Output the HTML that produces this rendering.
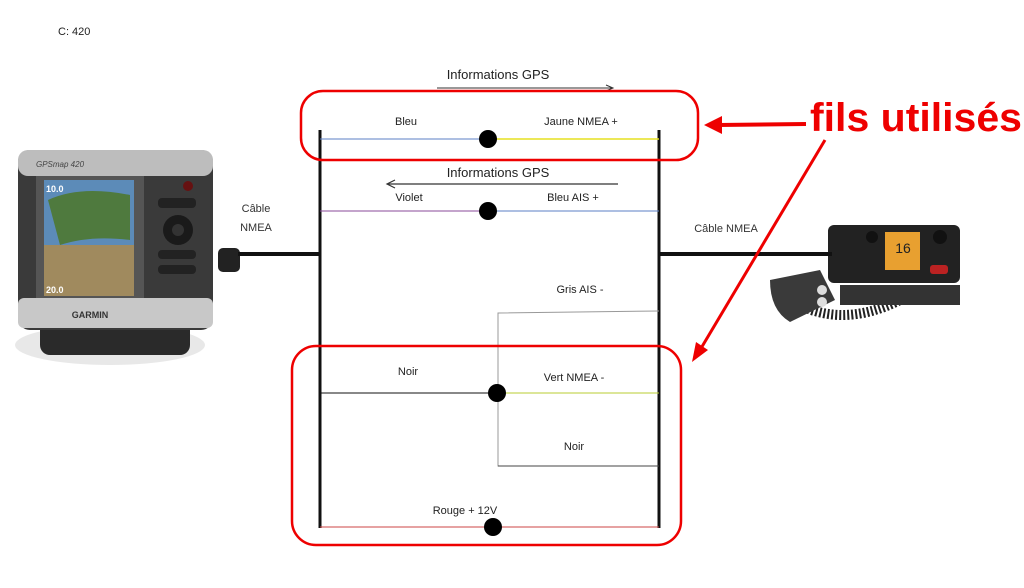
<!DOCTYPE html>
<html><head><meta charset="utf-8"><style>
body{margin:0;background:#fff}
svg{display:block;font-family:"Liberation Sans",sans-serif}
</style></head><body>
<svg width="1024" height="588" viewBox="0 0 1024 588" xmlns="http://www.w3.org/2000/svg">
<rect width="1024" height="588" fill="#fff"/>
<text x="58" y="35" font-size="11" fill="#222">C: 420</text>

<!-- GPS device -->
<ellipse cx="110" cy="345" rx="95" ry="20" fill="#e8e8e8"/>
<rect x="40" y="315" width="150" height="40" rx="10" fill="#2a2a2a"/>
<rect x="18" y="150" width="195" height="180" rx="12" fill="#3a3a3a"/>
<rect x="18" y="150" width="195" height="26" rx="10" fill="#bdbdbd"/>
<rect x="18" y="298" width="195" height="30" rx="6" fill="#c8c8c8"/>
<text x="90" y="318" font-size="9" fill="#333" text-anchor="middle" font-weight="bold">GARMIN</text>
<text x="36" y="167" font-size="8" fill="#444" font-style="italic">GPSmap 420</text>
<rect x="36" y="176" width="108" height="122" fill="#555"/>
<rect x="44" y="180" width="90" height="116" fill="#5c8bb8"/>
<path d="M48 200 Q80 185 130 195 L130 240 Q90 235 60 245 Z" fill="#4f7a3e"/>
<rect x="44" y="245" width="90" height="51" fill="#a08a5e"/>
<text x="46" y="192" font-size="9" fill="#fff" font-weight="bold">10.0</text>
<text x="46" y="293" font-size="9" fill="#fff" font-weight="bold">20.0</text>
<circle cx="188" cy="186" r="5" fill="#611"/>
<rect x="158" y="198" width="38" height="10" rx="4" fill="#222"/>
<circle cx="178" cy="230" r="15" fill="#1a1a1a"/>
<circle cx="178" cy="230" r="6" fill="#333"/>
<rect x="158" y="250" width="38" height="9" rx="4" fill="#222"/>
<rect x="158" y="265" width="38" height="9" rx="4" fill="#222"/>
<rect x="218" y="248" width="22" height="24" rx="5" fill="#222"/>
<text x="256" y="212" font-size="11" fill="#333" text-anchor="middle">Câble</text>
<text x="256" y="231" font-size="11" fill="#333" text-anchor="middle">NMEA</text>

<!-- radio -->
<path d="M790 300 Q840 330 900 300" fill="none" stroke="#222" stroke-width="10" stroke-dasharray="2 2"/>
<rect x="828" y="225" width="132" height="58" rx="6" fill="#222"/>
<rect x="885" y="232" width="35" height="38" fill="#e8a030"/>
<text x="903" y="253" font-size="14" fill="#222" text-anchor="middle">16</text>
<circle cx="872" cy="237" r="6" fill="#111"/>
<circle cx="940" cy="237" r="7" fill="#111"/>
<rect x="930" y="265" width="18" height="9" rx="3" fill="#b22"/>
<rect x="840" y="285" width="120" height="20" fill="#333"/>
<path d="M770 280 L820 270 L835 300 L790 322 Q770 310 770 280Z" fill="#3a3a3a"/>
<circle cx="822" cy="290" r="5" fill="#ddd"/>
<circle cx="822" cy="302" r="5" fill="#ddd"/>
<text x="726" y="232" font-size="11" fill="#333" text-anchor="middle">Câble NMEA</text>

<!-- cables -->
<line x1="238" y1="254" x2="320" y2="254" stroke="#111" stroke-width="4"/>
<line x1="659" y1="254" x2="832" y2="254" stroke="#111" stroke-width="4"/>

<!-- bars -->
<line x1="320" y1="130" x2="320" y2="528" stroke="#111" stroke-width="3"/>
<line x1="659" y1="130" x2="659" y2="528" stroke="#111" stroke-width="3"/>

<!-- GPS info arrows -->
<text x="498" y="79" font-size="13" fill="#222" text-anchor="middle">Informations GPS</text>
<line x1="437" y1="88" x2="612" y2="88" stroke="#333" stroke-width="1"/>
<path d="M606 85 L613 88 L606 91" fill="none" stroke="#333"/>
<text x="498" y="177" font-size="13" fill="#222" text-anchor="middle">Informations GPS</text>
<line x1="388" y1="184" x2="618" y2="184" stroke="#333" stroke-width="1.2"/>
<path d="M395 180 L387 184 L395 188" fill="none" stroke="#333" stroke-width="1.2"/>

<!-- wires -->
<text x="406" y="125" font-size="11" fill="#222" text-anchor="middle">Bleu</text>
<text x="581" y="125" font-size="11" fill="#222" text-anchor="middle">Jaune NMEA +</text>
<line x1="320" y1="139" x2="488" y2="139" stroke="#5b7fc4" stroke-width="1"/>
<line x1="488" y1="139" x2="659" y2="139" stroke="#e6e020" stroke-width="1.5"/>
<circle cx="488" cy="139" r="9" fill="#000"/>

<text x="409" y="201" font-size="11" fill="#222" text-anchor="middle">Violet</text>
<text x="573" y="201" font-size="11" fill="#222" text-anchor="middle">Bleu AIS +</text>
<line x1="320" y1="211" x2="488" y2="211" stroke="#8a4a9a" stroke-width="1"/>
<line x1="488" y1="211" x2="659" y2="211" stroke="#5b7fc4" stroke-width="1"/>
<circle cx="488" cy="211" r="9" fill="#000"/>

<text x="580" y="293" font-size="11" fill="#222" text-anchor="middle">Gris AIS -</text>
<polyline points="659,311 498,313 498,466 659,466" fill="none" stroke="#999" stroke-width="1"/>

<text x="408" y="375" font-size="11" fill="#222" text-anchor="middle">Noir</text>
<text x="574" y="381" font-size="11" fill="#222" text-anchor="middle">Vert NMEA -</text>
<line x1="320" y1="393" x2="497" y2="393" stroke="#111" stroke-width="1"/>
<line x1="497" y1="393" x2="659" y2="393" stroke="#b8cc30" stroke-width="1"/>
<circle cx="497" cy="393" r="9" fill="#000"/>
<text x="574" y="450" font-size="11" fill="#222" text-anchor="middle">Noir</text>
<line x1="498" y1="466" x2="659" y2="466" stroke="#444" stroke-width="1"/>

<text x="465" y="514" font-size="11" fill="#222" text-anchor="middle">Rouge + 12V</text>
<line x1="320" y1="527" x2="659" y2="527" stroke="#c44" stroke-width="1"/>
<circle cx="493" cy="527" r="9" fill="#000"/>

<!-- red highlights -->
<rect x="301" y="91" width="397" height="69" rx="22" fill="none" stroke="#e00" stroke-width="2.5"/>
<rect x="292" y="346" width="389" height="199" rx="24" fill="none" stroke="#e00" stroke-width="2.5"/>
<text x="810" y="131" font-size="40" font-weight="bold" fill="#e00" textLength="212" lengthAdjust="spacingAndGlyphs">fils utilisés</text>
<line x1="806" y1="124" x2="718" y2="125" stroke="#e00" stroke-width="4"/>
<path d="M704 125 L722 116 L722 134 Z" fill="#e00"/>
<line x1="825" y1="140" x2="700" y2="350" stroke="#e00" stroke-width="3"/>
<path d="M692 362 L696 342 L708 350 Z" fill="#e00"/>
</svg>
</body></html>
